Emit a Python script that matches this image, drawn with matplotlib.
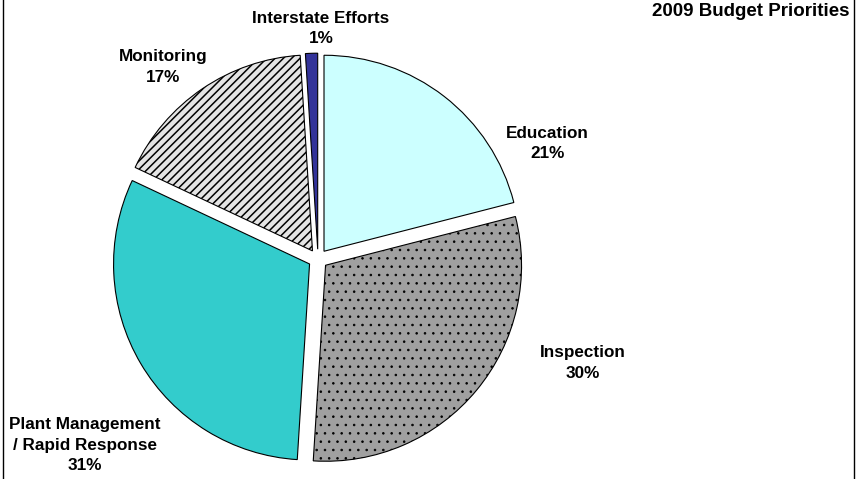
import matplotlib.pyplot as plt
from matplotlib.lines import Line2D

plt.rcParams['font.family'] = ['Liberation Sans', 'DejaVu Sans']
plt.rcParams['hatch.linewidth'] = 1.0

categories = ["Education", "Inspection", "Plant Management\n/ Rapid Response",
              "Monitoring", "Interstate Efforts"]
shares = [21, 30, 31, 17, 1]
colors = ["#CCFFFF", "#A0A0A0", "#33CCCC", "#E4E4E4", "#333399"]
hatches = [None, "..", None, "////", None]
hatch_widths = [1.0, 0.6, 1.0, 1.1, 1.0]

# label centres in data units (pie radius = 1)
label_pos = [(1.17, 0.59), (1.35, -0.53), (-1.19, -0.95), (-0.79, 0.98), (0.015, 1.175)]

W, H = 867, 479
fig = plt.figure(figsize=(W / 100, H / 100), dpi=100)

# one data unit = 196 px, pie centre at (318, 259) px from top-left
scale = 196.0
cx, cy = 318, H - 259
half = 1.1 * scale
ax = fig.add_axes([(cx - half) / W, (cy - half) / H, 2 * half / W, 2 * half / H])

wedges, _ = ax.pie(shares, colors=colors, startangle=90, counterclock=False,
                   explode=[0.05] * len(shares),
                   wedgeprops=dict(edgecolor="black", linewidth=0.8))
for w, h, hw in zip(wedges, hatches, hatch_widths):
    if h:
        w.set_hatch(h)
        w._hatch_linewidth = hw

ax.set_xlim(-1.1, 1.1)
ax.set_ylim(-1.1, 1.1)
ax.set_aspect("equal")
ax.axis("off")

for name, val, (lx, ly) in zip(categories, shares, label_pos):
    ax.text(lx, ly, "{}\n{}%".format(name, val), ha="center", va="center",
            fontsize=12.3, fontweight="bold", linespacing=1.45, clip_on=False)

fig.text(849 / W, 1 - 12 / H, "2009 Budget Priorities", ha="right", va="center",
         fontsize=13.5, fontweight="bold")

# frame edges (chart is cropped at top and bottom)
fig.add_artist(Line2D([2.5 / W, 2.5 / W], [0, 1], color="black", linewidth=1))
fig.add_artist(Line2D([853.5 / W, 853.5 / W], [0, 1], color="black", linewidth=1))

plt.savefig("out.png", dpi=100)
